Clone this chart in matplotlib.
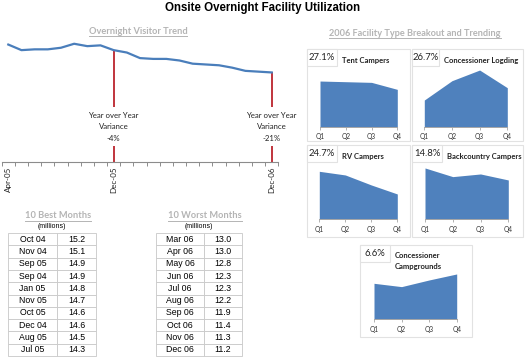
import numpy as np
import matplotlib
matplotlib.use("Agg")
import matplotlib.pyplot as plt
from matplotlib.patches import Rectangle
from matplotlib.lines import Line2D

# ---------------- data ----------------
months = ["Apr-05", "May-05", "Jun-05", "Jul-05", "Aug-05", "Sep-05", "Oct-05", "Nov-05",
          "Dec-05", "Jan-06", "Feb-06", "Mar-06", "Apr-06", "May-06", "Jun-06", "Jul-06",
          "Aug-06", "Sep-06", "Oct-06", "Nov-06", "Dec-06"]
visitors = [14.7, 14.0, 14.1, 14.1, 14.3, 14.8, 14.5, 14.6, 14.0, 13.7, 13.0, 12.9,
            12.9, 12.7, 12.3, 12.2, 12.1, 11.8, 11.4, 11.3, 11.2]
shown_labels = ["Apr-05", "Dec-05", "Dec-06"]
variance_months = ["Dec-05", "Dec-06"]
variance_labels = ["-4%", "-21%"]

best_months = ["Oct 04", "Nov 04", "Sep 05", "Sep 04", "Jan 05", "Nov 05", "Oct 05", "Dec 04", "Aug 05", "Jul 05"]
best_values = ["15.2", "15.1", "14.9", "14.9", "14.8", "14.7", "14.6", "14.6", "14.5", "14.3"]
worst_months = ["Mar 06", "Apr 06", "May 06", "Jun 06", "Jul 06", "Aug 06", "Sep 06", "Oct 06", "Nov 06", "Dec 06"]
worst_values = ["13.0", "13.0", "12.8", "12.3", "12.3", "12.2", "11.9", "11.4", "11.3", "11.2"]

quarters = ["Q1", "Q2", "Q3", "Q4"]
facility_names = ["Tent Campers", "Concessioner Logding", "RV Campers", "Backcountry Campers",
                  "Concessioner\nCampgrounds"]
facility_shares = ["27.1%", "26.7%", "24.7%", "14.8%", "6.6%"]
tent = [137, 135, 133, 112]
conc_lodging = [80, 138, 170, 117]
rv = [144, 133, 103, 76]
backcountry = [154, 128, 136, 118]
conc_camp = [108, 98, 118, 136]
facility_series = [tent, conc_lodging, rv, backcountry, conc_camp]

# ---------------- figure ----------------
W, H = 525, 359
fig = plt.figure(figsize=(W / 100, H / 100), dpi=100)
fig.patch.set_facecolor("white")

CAL = ["Lato", "DejaVu Sans"]
ARI = ["Liberation Sans", "DejaVu Sans"]
BLUE = "#4a7ebb"
AREA = "#4f81bd"
RED = "#c0343c"
GRAYT = "#b4b4b4"


def fx(px):
    return px / W


def fy(py):
    return 1 - py / H


def px_axes(x0, y0, x1, y1):
    """axes from pixel box (top-left origin)"""
    return fig.add_axes([fx(x0), fy(y1), fx(x1) - fx(x0), fy(y0) - fy(y1)])


def underlined(x, y, s, size=6.7, color=GRAYT):
    t = fig.text(fx(x), fy(y), s, ha="center", va="center", fontsize=size,
                 fontweight="bold", color=color, family=CAL)
    return t


# title
fig.text(fx(263), fy(8), "Onsite Overnight Facility Utilization", ha="center", va="center",
         fontsize=8.3, fontweight="bold", family=ARI, color="black")

titles = [underlined(138, 31, "Overnight Visitor Trend"),
          underlined(415, 33, "2006 Facility Type Breakout and Trending", size=6.6),
          underlined(58, 216, "10 Best Months"),
          underlined(205, 216, "10 Worst Months")]

# ---------------- trend line ----------------
ax = px_axes(1.7, 34.2, 278.3, 161.7)
x = np.arange(len(months))
ax.plot(x, visitors, color=BLUE, lw=1.6, zorder=3)
ax.set_xlim(-0.5, len(months) - 0.5)
ax.set_ylim(0, 16)
for s in ["top", "right", "left"]:
    ax.spines[s].set_visible(False)
ax.spines["bottom"].set_color("#8c8c8c")
ax.spines["bottom"].set_linewidth(0.8)
ax.set_yticks([])
ax.set_xticks([months.index(m) for m in shown_labels])
ax.set_xticklabels(shown_labels, rotation=90, fontsize=5.8, family=CAL, color="#222222")
ax.tick_params(axis="x", which="major", length=0, pad=3.5)
ax.set_xticks(np.arange(-0.5, len(months)), minor=True)
ax.tick_params(axis="x", which="minor", length=3, color="#8c8c8c", width=0.7)
ax.patch.set_alpha(0)
for m, lab in zip(variance_months, variance_labels):
    i = months.index(m)
    ax.vlines(i, 0, visitors[i], color=RED, lw=1.4, zorder=2)
    ax.text(i, 4.4, "Year over Year\nVariance\n" + lab, ha="center", va="center", fontsize=5.6,
            family=CAL, color="#222222", linespacing=1.75, zorder=4, clip_on=False,
            bbox=dict(facecolor="white", edgecolor="none", pad=3.5))

# ---------------- tables ----------------
def draw_table(x0, xm, x1, y0, rows_m, rows_v):
    tax = px_axes(x0, y0, x1, y0 + 12.3 * len(rows_m))
    tax.axis("off")
    cells = [[a, b] for a, b in zip(rows_m, rows_v)]
    tb = tax.table(cellText=cells, bbox=[0, 0, 1, 1], cellLoc="center",
                   colWidths=[(xm - x0) / (x1 - x0), (x1 - xm) / (x1 - x0)])
    tb.auto_set_font_size(False)
    for (r, c), cell in tb.get_celld().items():
        cell.set_edgecolor("#c8c8c8")
        cell.set_linewidth(0.6)
        cell.get_text().set_fontsize(6.3)
        cell.get_text().set_family(ARI)
    fig.text(fx((x0 + x1) / 2), fy(227), "(millions)", ha="center", va="center",
             fontsize=5, family=ARI, color="black")

draw_table(8, 57, 96, 233, best_months, best_values)
draw_table(156, 204, 242, 233, worst_months, worst_values)

# ---------------- facility panels ----------------
# panel boxes: (left, top, right, bottom), q1x, q4x, baseline
panels = [
    ((307, 49, 410, 141), 320, 397.3, 126.7),
    ((412, 49, 523, 141), 424.3, 507.3, 126.7),
    ((307, 145, 410, 237), 319.3, 397.3, 219.3),
    ((412, 145, 523, 237), 425, 508.3, 219.3),
    ((360, 245, 472, 337), 374, 456.7, 319.3),
]
for k, ((l, t, r, b), q1, q4, base) in enumerate(panels):
    fig.add_artist(Rectangle((fx(l), fy(b)), fx(r) - fx(l), fy(t) - fy(b),
                             transform=fig.transFigure, facecolor="white",
                             edgecolor="#e2e2e2", lw=0.8, zorder=0))
    bw = 30 if k != 1 else 27
    fig.add_artist(Rectangle((fx(l), fy(t + 17)), fx(bw), fy(t) - fy(t + 17),
                             transform=fig.transFigure, facecolor="white",
                             edgecolor="#e2e2e2", lw=0.8, zorder=1))
    fig.text(fx(l + bw / 2), fy(t + 8.5), facility_shares[k], ha="center", va="center",
             fontsize=6.8, family=CAL, color="#222222")
    if "\n" in facility_names[k]:
        fig.text(fx(l + bw + 5), fy(t + 16), facility_names[k], ha="left", va="center",
                 fontsize=5.5, fontweight="bold", family=CAL, color="#222222", linespacing=1.5)
    else:
        fig.text(fx(l + bw + 5), fy(t + 11), facility_names[k], ha="left", va="center",
                 fontsize=5.5, fontweight="bold", family=CAL, color="#222222")
    a = px_axes(q1, base - 60, q4, base)
    vals = facility_series[k]
    xq = np.arange(len(quarters))
    a.fill_between(xq, 0, vals, color=AREA, lw=0)
    a.set_xlim(0, len(quarters) - 1)
    a.set_ylim(0, 180)
    for s in ["top", "right", "left"]:
        a.spines[s].set_visible(False)
    a.spines["bottom"].set_color("#a6a6a6")
    a.spines["bottom"].set_linewidth(0.7)
    a.set_yticks([])
    a.set_xticks(xq)
    a.set_xticklabels(quarters, fontsize=4.8, family=CAL, color="#333333")
    a.tick_params(axis="x", length=2, color="#a6a6a6", width=0.6, pad=2.5)
    a.patch.set_alpha(0)

# underline section titles
fig.canvas.draw()
r = fig.canvas.get_renderer()
inv = fig.transFigure.inverted()
for t in titles:
    bb = t.get_window_extent(r).transformed(inv)
    yb = bb.y0 - 0.4 / H
    fig.add_artist(Line2D([bb.x0, bb.x1], [yb, yb], transform=fig.transFigure,
                          color=GRAYT, lw=0.7))

fig.savefig("out.png", dpi=100, facecolor="white")
